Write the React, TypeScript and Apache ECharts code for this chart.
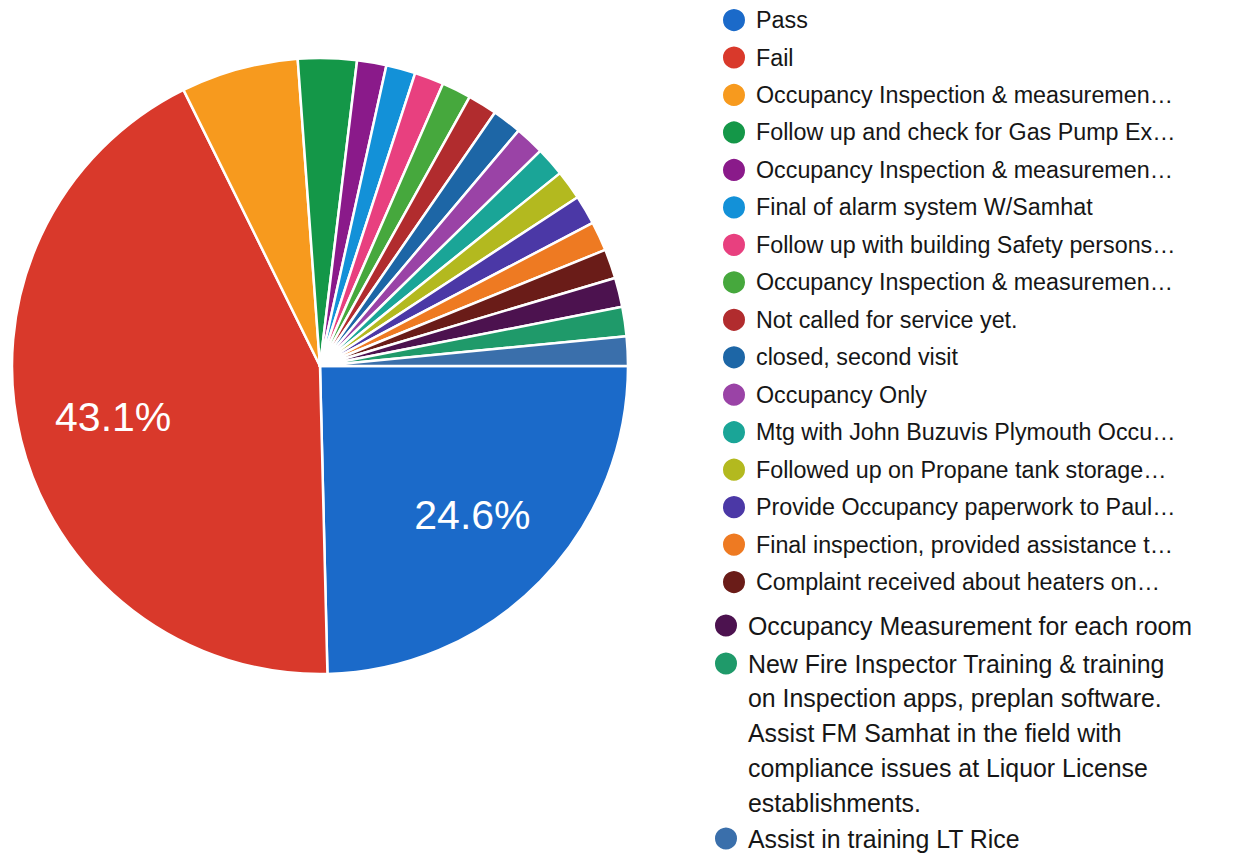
import React, { useEffect, useRef } from "react";
import * as echarts from "echarts";

const categories: string[] = [
  "Pass",
  "Fail",
  "Occupancy Inspection & measuremen…",
  "Follow up and check for Gas Pump Ex…",
  "Occupancy Inspection & measuremen…",
  "Final of alarm system W/Samhat",
  "Follow up with building Safety persons…",
  "Occupancy Inspection & measuremen…",
  "Not called for service yet.",
  "closed, second visit",
  "Occupancy Only",
  "Mtg with John Buzuvis Plymouth Occu…",
  "Followed up on Propane tank storage…",
  "Provide Occupancy paperwork to Paul…",
  "Final inspection, provided assistance t…",
  "Complaint received about heaters on…",
  "Occupancy Measurement for each room",
  "New Fire Inspector Training & training\non Inspection apps, preplan software.\nAssist FM Samhat in the field with\ncompliance issues at Liquor License\nestablishments.",
  "Assist in training LT Rice",
];

const values: number[] = [16, 28, 4, 2, 1, 1, 1, 1, 1, 1, 1, 1, 1, 1, 1, 1, 1, 1, 1];

const colors: string[] = [
  "#1b6ac9",
  "#d9392b",
  "#f79a1e",
  "#149748",
  "#8a1a8a",
  "#1391d8",
  "#e8407f",
  "#46a83d",
  "#b12c2e",
  "#1d66a6",
  "#9a43a6",
  "#1aa597",
  "#b3b91f",
  "#4b38a6",
  "#ee7a22",
  "#6a1c18",
  "#4c124f",
  "#1f9a6a",
  "#3a6fab",
];

const keys = categories.map((_, i) => "item" + i);
const labelOf: Record<string, string> = {};
keys.forEach((k, i) => {
  labelOf[k] = categories[i];
});

const FONT = "'Liberation Sans', Arial, Helvetica, sans-serif";

export default function App() {
  const ref = useRef<HTMLDivElement>(null);

  useEffect(() => {
    if (!ref.current) return;
    const chart = echarts.init(ref.current, undefined, { renderer: "svg" });

    const legendBase = {
      orient: "vertical",
      icon: "circle",
      itemWidth: 24,
      itemHeight: 24,
      padding: 0,
      itemGap: 0,
      selectedMode: false,
    };
    const txt = (fontSize: number, lineHeight: number) => ({
      fontFamily: FONT,
      fontSize,
      lineHeight,
      color: "#161616",
      padding: [0, 0, 0, 5],
    });
    const plain = (name: string) => labelOf[name];
    // multi-line item: blank lines above keep the icon beside the first line
    const firstLineAligned = (name: string) => {
      const text = labelOf[name];
      const n = text.split("\n").length;
      return "\n".repeat(n - 1) + text;
    };

    const pieData = keys.map((k, i) => ({
      name: k,
      value: values[i],
      itemStyle: { color: colors[i] },
    }));

    const LH2 = 34.75;

    chart.setOption({
      animation: false,
      backgroundColor: "#ffffff",
      legend: [
        {
          ...legendBase,
          left: 721,
          top: 1.3,
          formatter: plain,
          data: keys.slice(0, 16),
          textStyle: txt(23.3, 37.47),
        },
        {
          ...legendBase,
          left: 713,
          top: 625.5 - LH2 / 2,
          formatter: plain,
          data: [keys[16]],
          textStyle: txt(24.9, LH2),
        },
        {
          ...legendBase,
          left: 713,
          top: 663.5 - 4.5 * LH2,
          formatter: firstLineAligned,
          data: [keys[17]],
          textStyle: txt(24.9, LH2),
        },
        {
          ...legendBase,
          left: 713,
          top: 838.5 - LH2 / 2,
          formatter: plain,
          data: [keys[18]],
          textStyle: txt(24.9, LH2),
        },
      ],
      series: [
        {
          type: "pie",
          center: [320, 366],
          radius: [0, 308],
          startAngle: 0,
          clockwise: true,
          percentPrecision: 1,
          label: { show: false },
          labelLine: { show: false },
          emphasis: { disabled: true },
          itemStyle: { borderColor: "#ffffff", borderWidth: 2.5 },
          data: pieData,
        },
        {
          type: "pie",
          center: [320, 366],
          radius: [112, 308],
          startAngle: 0,
          clockwise: true,
          silent: true,
          percentPrecision: 1,
          legendHoverLink: false,
          emphasis: { disabled: true },
          itemStyle: { color: "rgba(0,0,0,0)", borderWidth: 0 },
          labelLine: { show: false },
          label: {
            show: true,
            position: "inside",
            color: "#ffffff",
            fontFamily: FONT,
            fontSize: 41,
            formatter: (p: any) => (p.percent >= 10 ? p.percent + "%" : ""),
          },
          data: keys.map((k, i) => ({ name: k, value: values[i] })),
        },
      ],
    });

    return () => {
      chart.dispose();
    };
  }, []);

  return (
    <div
      ref={ref}
      style={{ position: "fixed", left: 0, top: 0, width: 1235, height: 855 }}
    />
  );
}
